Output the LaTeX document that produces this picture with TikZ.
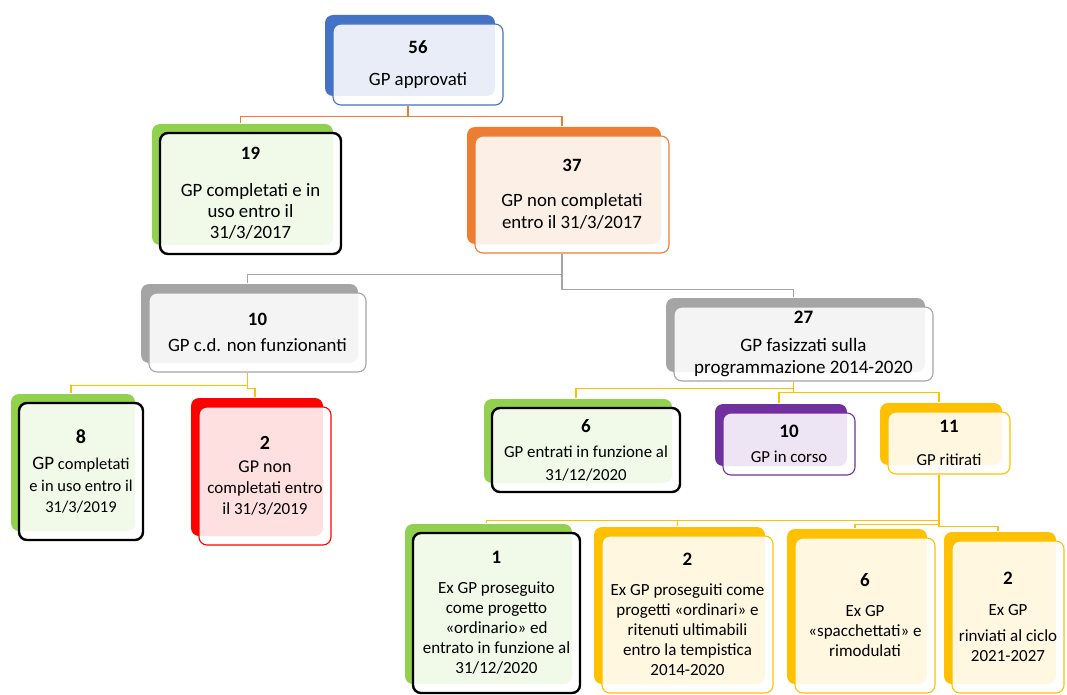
\documentclass[tikz,border=0pt]{standalone}
\usepackage{fontspec}
\setmainfont{Carlito}
\usepackage{tikz}
\usetikzlibrary{shadows}

\definecolor{gpblue}{HTML}{4472C4}
\definecolor{gpgreen}{HTML}{92D050}
\definecolor{gporange}{HTML}{ED7D31}
\definecolor{gpgray}{HTML}{A5A5A5}
\definecolor{gpred}{HTML}{FF0000}
\definecolor{gppurple}{HTML}{7030A0}
\definecolor{gpyellow}{HTML}{FFC000}

\tikzset{
    gpbox/.style={rounded corners=8pt, fill=white, fill opacity=0.88, text opacity=1,
        draw=#1, line width=1.1pt, align=center, inner sep=0pt,
        font=\fontsize{18.8}{21}\selectfont,
        copy shadow={shadow xshift=-8pt, shadow yshift=9pt, fill=#1, fill opacity=1, draw=none}},
    okbox/.style={gpbox=gpgreen, draw=black, line width=2.4pt},
    small/.style={font=\fontsize{17}{20}\selectfont},
    link/.style={line width=1.3pt, #1}
}

\begin{document}
\begin{tikzpicture}[x=1pt, y=-1pt]
    \useasboundingbox (0,0) rectangle (1067,695);

    % level 1 and 2
    \node[gpbox=gpblue, minimum width=170pt, minimum height=81pt] (approvati) at (418,64.5)
        {\textbf{56}\\[11pt]GP approvati};
    \node[okbox, minimum width=181pt, minimum height=121pt] (compl17) at (250.5,193.5)
        {\textbf{19}\\[16pt]GP completati e in\\uso entro il\\31/3/2017};
    \node[gpbox=gporange, minimum width=194pt, minimum height=117pt] (noncompl17) at (572,194.5)
        {\textbf{37}\\[14pt]GP non completati\\[1pt]entro il 31/3/2017};

    % level 3
    \node[gpbox=gpgray, minimum width=217pt, minimum height=79pt] (nonfunz) at (257.5,332.5)
        {\textbf{10}\\[5pt]GP c.d. non funzionanti};
    \node[gpbox=gpgray, minimum width=259pt, minimum height=74pt, font=\fontsize{19}{22}\selectfont] (fasizzati) at (803.5,344)
        {\textbf{27}\\[6pt]GP fasizzati sulla\\programmazione 2014-2020};

    % level 4
    \node[okbox, minimum width=124pt, minimum height=137pt, font=\fontsize{16.5}{21.5}\selectfont] (compl19) at (81,471.5)
        {{\fontsize{20}{21}\selectfont\textbf{8}}\\[5pt]{\fontsize{19}{21}\selectfont GP} completati\\e in uso entro il\\31/3/2019};
    \node[gpbox=gpred, minimum width=132pt, minimum height=138pt, font=\fontsize{17}{21}\selectfont] (noncompl19) at (265,476)
        {{\fontsize{20}{21}\selectfont\textbf{2}}\\[2pt]{\fontsize{18}{21}\selectfont GP non}\\completati entro\\il 31/3/2019};
    \node[okbox, minimum width=188pt, minimum height=84pt, font=\fontsize{16.8}{23}\selectfont] (entrati) at (586,450)
        {{\fontsize{19}{21}\selectfont\textbf{6}}\\[2pt]GP entrati in funzione al\\31/12/2020};
    \node[gpbox=gppurple, minimum width=132pt, minimum height=62pt, font=\fontsize{16.8}{23}\selectfont] (incorso) at (789,444)
        {{\fontsize{19}{21}\selectfont\textbf{10}}\\[2pt]GP in corso};
    \node[gpbox=gpyellow, minimum width=122pt, minimum height=62pt, font=\fontsize{16.8}{23}\selectfont] (ritirati) at (949,443)
        {{\fontsize{19}{21}\selectfont\textbf{11}}\\[10pt]GP ritirati};

    % level 5
    \node[okbox, small, minimum width=167pt, minimum height=160pt] (ordinario) at (496.5,613)
        {{\fontsize{19}{21}\selectfont\textbf{1}}\\[10pt]Ex GP proseguito\\come progetto\\«ordinario» ed\\entrato in funzione al\\31/12/2020};
    \node[gpbox=gpyellow, small, minimum width=171pt, minimum height=157pt] (ordinari) at (687.5,614.5)
        {{\fontsize{19}{21}\selectfont\textbf{2}}\\[10pt]Ex GP proseguiti come\\progetti «ordinari» e\\ritenuti ultimabili\\entro la tempistica\\2014-2020};
    \node[gpbox=gpyellow, small, minimum width=140pt, minimum height=155pt] (spacchettati) at (865,615.5)
        {{\fontsize{19}{21}\selectfont\textbf{6}}\\[10pt]Ex GP\\«spacchettati» e\\rimodulati};
    \node[gpbox=gpyellow, small, minimum width=112pt, minimum height=152pt] (rinviati) at (1008,617)
        {{\fontsize{19}{21}\selectfont\textbf{2}}\\[11pt]Ex GP\\[6pt]rinviati al ciclo\\2021-2027};

    % connectors
    \draw[link=gporange] ([xshift=-10pt]approvati.south) -- ++(0,11) -| ([shift={(-10,-9)}]compl17.north);
    \draw[link=gporange] ([xshift=-10pt]approvati.south) -- ++(0,11) -| ([shift={(-10,-9)}]noncompl17.north);

    \draw[link=gpgray] ([xshift=-10pt]noncompl17.south) -- ++(0,21) -| ([shift={(-10,-9)}]nonfunz.north);
    \draw[link=gpgray] ([xshift=-10pt]noncompl17.south) -- ++(0,36) -| ([shift={(-10,-9)}]fasizzati.north);

    \draw[link=gpyellow] ([xshift=-10pt]nonfunz.south) -- ++(0,13) -| ([shift={(-10,-9)}]compl19.north);
    \draw[link=gpyellow] ([xshift=-10pt]nonfunz.south) -- ++(0,16) -| ([shift={(-10,-9)}]noncompl19.north);

    \draw[link=gpyellow] ([xshift=-10pt]fasizzati.south) -- ++(0,7) -| ([shift={(-10,-9)}]entrati.north);
    \draw[link=gpyellow] ([xshift=-10pt]fasizzati.south) -- ++(0,11) -| ([shift={(-10,-9)}]incorso.north);
    \draw[link=gpyellow] ([xshift=-10pt]fasizzati.south) -- ++(0,11) -| ([shift={(-10,-9)}]ritirati.north);

    \draw[link=gpyellow] ([xshift=-10pt]ritirati.south) -- ++(0,46) -| ([shift={(-10,-9)}]ordinario.north);
    \draw[link=gpyellow] ([xshift=-10pt]ritirati.south) -- ++(0,46) -| ([shift={(-10,-9)}]ordinari.north);
    \draw[link=gpyellow] ([xshift=-10pt]ritirati.south) -- ++(0,50) -| ([shift={(-10,-9)}]spacchettati.north);
    \draw[link=gpyellow] ([xshift=-10pt]ritirati.south) -- ++(0,52) -| ([shift={(-10,-9)}]rinviati.north);
\end{tikzpicture}
\end{document}
